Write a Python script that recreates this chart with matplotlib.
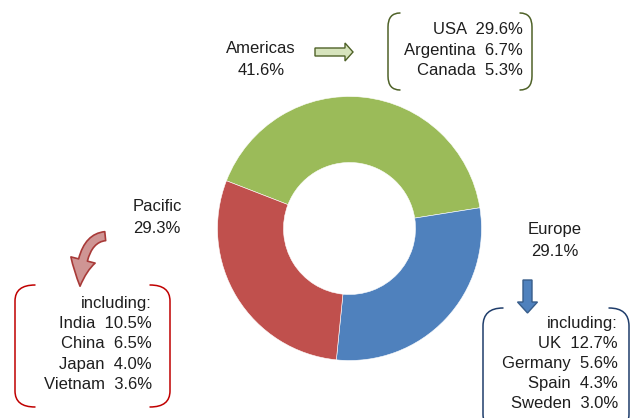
import matplotlib
matplotlib.use("Agg")
import matplotlib.pyplot as plt
from matplotlib.path import Path
from matplotlib.patches import PathPatch, FancyArrowPatch

# ---------------- data ----------------
regions = ["Americas", "Europe", "Pacific"]
shares = [41.6, 29.1, 29.3]
colors = ["#9bbb59", "#4f81bd", "#c0504d"]

americas_countries = ["USA", "Argentina", "Canada"]
americas_values = [29.6, 6.7, 5.3]
pacific_countries = ["India", "China", "Japan", "Vietnam"]
pacific_values = [10.5, 6.5, 4.0, 3.6]
europe_countries = ["UK", "Germany", "Spain", "Sweden"]
europe_values = [12.7, 5.6, 4.3, 3.0]

W, H = 630, 418
FONT = "Liberation Sans"
FS = 12
TXT = "#1e1e1e"

fig = plt.figure(figsize=(W / 100, H / 100), dpi=100)
ax = fig.add_axes([0, 0, 1, 1])


def Y(y):
    return H - y


ax.pie(shares, colors=colors, center=(349.5, Y(228.5)), radius=132,
       startangle=158.8, counterclock=False,
       wedgeprops=dict(width=66, edgecolor="white", linewidth=0.4))
ax.set_xlim(0, W)
ax.set_ylim(0, H)
ax.set_aspect("equal")
ax.axis("off")


def label(x, y, s, ha="center"):
    ax.text(x, Y(y), s, ha=ha, va="baseline", fontsize=FS, family=FONT, color=TXT)


# region labels
label(261, 53, regions[0])
label(261, 75, f"{shares[0]:.1f}%")
label(157, 211, regions[2])
label(157, 233, f"{shares[2]:.1f}%")
label(555, 234, regions[1])
label(555, 256, f"{shares[1]:.1f}%")

# country lists
for i, (c, v) in enumerate(zip(americas_countries, americas_values)):
    label(523, 34 + 20.5 * i, f"{c}  {v:.1f}%", ha="right")

label(152, 308, "including:", ha="right")
for i, (c, v) in enumerate(zip(pacific_countries, pacific_values)):
    label(152, 328 + 20.3 * (i), f"{c}  {v:.1f}%", ha="right")

label(618, 328, "including:", ha="right")
for i, (c, v) in enumerate(zip(europe_countries, europe_values)):
    label(618, 348 + 20 * i, f"{c}  {v:.1f}%", ha="right")


def bracket_pair(x0, x1, y0, y1, end, r, color, lw=1.1):
    for side in (0, 1):
        if side == 0:
            xe, xs = x0 + end, x0
        else:
            xe, xs = x1 - end, x1
        verts = [(xe, Y(y0)), (xs, Y(y0)), (xs, Y(y0 + r)),
                 (xs, Y(y1 - r)), (xs, Y(y1)), (xe, Y(y1))]
        codes = [Path.MOVETO, Path.CURVE3, Path.CURVE3,
                 Path.LINETO, Path.CURVE3, Path.CURVE3]
        ax.add_patch(PathPatch(Path(verts, codes), fill=False,
                               edgecolor=color, lw=lw, capstyle="round"))


bracket_pair(388, 532, 13, 90, 12, 14, "#4f6228")
bracket_pair(15, 170, 285, 407, 20, 16, "#c00000")
bracket_pair(483, 629, 308, 432, 20, 18, "#1f3d6b")

# arrows
ax.arrow(315, Y(52), 38, 0, width=8, head_width=18, head_length=8,
         length_includes_head=True, fc="#d7e4bd", ec="#4f6228", lw=1.0)
ax.arrow(527.5, Y(280), 0, -33, width=9, head_width=20, head_length=11,
         length_includes_head=True, fc="#4f81bd", ec="#385d8a", lw=1.0)

red_arrow = FancyArrowPatch((108, Y(236)), (80, Y(289)),
                            connectionstyle="angle3,angleA=180,angleB=90",
                            arrowstyle="simple,head_length=19,head_width=18,tail_width=6.5",
                            mutation_scale=1, fc="#cf9594", ec="#a83a38", lw=1.2)
ax.add_patch(red_arrow)

fig.savefig("out.png", dpi=100)
